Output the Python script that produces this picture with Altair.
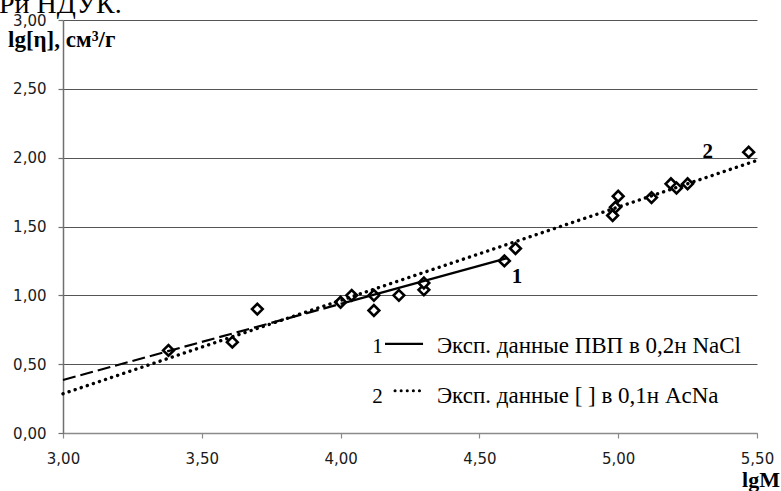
import altair as alt
import pandas as pd

# ---- data ----
lgM = [3.38, 3.61, 3.70, 4.00, 4.04, 4.12, 4.12, 4.21, 4.30, 4.30,
       4.59, 4.63, 4.98, 4.99, 5.00, 5.12, 5.19, 5.21, 5.25, 5.47]
lg_eta = [0.60, 0.66, 0.90, 0.95, 1.00, 1.00, 0.89, 1.00, 1.04, 1.09,
          1.25, 1.34, 1.58, 1.64, 1.72, 1.71, 1.81, 1.78, 1.81, 2.04]

# trend line 1 (dashed extension + solid part)
line1_dash_x = [3.00, 4.00]
line1_dash_y = [0.385, 0.938]
line1_solid_x = [4.00, 4.60]
line1_solid_y = [0.938, 1.27]
# trend line 2 (dotted)
line2_x = [3.00, 5.50]
line2_y = [0.285, 1.98]

x_ticks = [3.0, 3.5, 4.0, 4.5, 5.0, 5.5]
y_ticks = [0.0, 0.5, 1.0, 1.5, 2.0, 2.5, 3.0]

series_labels = ["1", "2"]
series_label_x = [4.635, 5.323]
series_label_y = [1.09, 2.00]

legend_nums = ["1", "2"]
legend_texts = ["Эксп. данные ПВП в 0,2н NaCl", "Эксп. данные [   ] в 0,1н AcNa"]
legend_num_x = [4.133, 4.133]
legend_text_x = [4.347, 4.347]
legend_text_y = [0.582, 0.219]
legend_line1_x = [4.160, 4.297]
legend_line1_y = [0.647]
legend_line2_x = [4.196, 4.293]
legend_line2_y = [0.306]

y_title = ["lg[η], см³/г"]
x_title = ["lgM"]
top_text = ["Ри НДУК."]

SERIF = "Liberation Serif"
SANS = "DejaVu Sans"

xs = alt.Scale(domain=[3, 5.5], nice=False, zero=False)
ys = alt.Scale(domain=[0, 3], nice=False, zero=False)
lab = "replace(format(datum.value, '.2f'), '.', ',')"

xaxis = alt.Axis(values=x_ticks, labelExpr=lab, grid=False, domainColor="#8a8a8a",
                 domainWidth=1.5, tickColor="#8a8a8a", tickSize=5, tickWidth=1.2,
                 labelFont=SANS, labelFontSize=15, labelColor="#1a1a1a",
                 labelPadding=13, title="", labelFlush=False, labelOverlap=False)
yaxis = alt.Axis(values=y_ticks, labelExpr=lab, grid=True, gridColor="#555555",
                 gridWidth=1, domainColor="#707070", domainWidth=1.5,
                 tickColor="#707070", tickSize=5, tickWidth=1.2,
                 labelFont=SANS, labelFontSize=15, labelColor="#1a1a1a",
                 labelPadding=12, title="", labelFlush=False, labelOverlap=False)

pts = pd.DataFrame({"x": lgM, "y": lg_eta})
points = alt.Chart(pts).mark_point(
    shape="diamond", size=115, filled=True, fill="white", stroke="black",
    strokeWidth=2.6, opacity=1
).encode(x=alt.X("x:Q", scale=xs, axis=xaxis), y=alt.Y("y:Q", scale=ys, axis=yaxis))

l1d = alt.Chart(pd.DataFrame({"x": line1_dash_x, "y": line1_dash_y})).mark_line(
    color="black", strokeWidth=2.2, strokeDash=[13, 5]
).encode(x=alt.X("x:Q", scale=xs), y=alt.Y("y:Q", scale=ys))
l1s = alt.Chart(pd.DataFrame({"x": line1_solid_x, "y": line1_solid_y})).mark_line(
    color="black", strokeWidth=2.2
).encode(x=alt.X("x:Q", scale=xs), y=alt.Y("y:Q", scale=ys))
l2 = alt.Chart(pd.DataFrame({"x": line2_x, "y": line2_y})).mark_line(
    color="black", strokeWidth=3.4, strokeDash=[0.1, 6.3], strokeCap="round"
).encode(x=alt.X("x:Q", scale=xs), y=alt.Y("y:Q", scale=ys))

slabels = alt.Chart(pd.DataFrame({"x": series_label_x, "y": series_label_y, "t": series_labels})).mark_text(
    font=SERIF, fontWeight="bold", fontSize=21, color="black", align="center", baseline="alphabetic"
).encode(x=alt.X("x:Q", scale=xs), y=alt.Y("y:Q", scale=ys), text="t:N")

leg_nums = alt.Chart(pd.DataFrame({"x": legend_num_x, "y": legend_text_y, "t": legend_nums})).mark_text(
    font=SERIF, fontSize=21, color="black", align="center", baseline="alphabetic"
).encode(x=alt.X("x:Q", scale=xs), y=alt.Y("y:Q", scale=ys), text="t:N")
leg_txt = alt.Chart(pd.DataFrame({"x": legend_text_x, "y": legend_text_y, "t": legend_texts})).mark_text(
    font=SERIF, fontSize=23, color="black", align="left", baseline="alphabetic"
).encode(x=alt.X("x:Q", scale=xs), y=alt.Y("y:Q", scale=ys), text="t:N")
leg_l1 = alt.Chart(pd.DataFrame({"x": [legend_line1_x[0]], "x2": [legend_line1_x[1]], "y": legend_line1_y})).mark_rule(
    color="black", strokeWidth=2.2
).encode(x=alt.X("x:Q", scale=xs), x2="x2:Q", y=alt.Y("y:Q", scale=ys))
leg_l2 = alt.Chart(pd.DataFrame({"x": [legend_line2_x[0]], "x2": [legend_line2_x[1]], "y": legend_line2_y})).mark_rule(
    color="black", strokeWidth=3, strokeDash=[0.1, 6], strokeCap="round"
).encode(x=alt.X("x:Q", scale=xs), x2="x2:Q", y=alt.Y("y:Q", scale=ys))

ytitle = alt.Chart(pd.DataFrame({"t": y_title})).mark_text(
    font=SERIF, fontWeight="bold", fontSize=23, color="black", align="left", baseline="alphabetic"
).encode(x=alt.value(-55), y=alt.value(27), text="t:N")
xtitle = alt.Chart(pd.DataFrame({"t": x_title})).mark_text(
    font=SERIF, fontWeight="bold", fontSize=22, color="black", align="right", baseline="alphabetic"
).encode(x=alt.value(717), y=alt.value(467), text="t:N")
toptxt = alt.Chart(pd.DataFrame({"t": top_text})).mark_text(
    font=SERIF, fontSize=28, color="black", align="left", baseline="alphabetic"
).encode(x=alt.value(-64), y=alt.value(-7), text="t:N")

chart = alt.layer(
    points, l1d, l1s, l2, slabels, leg_nums, leg_txt, leg_l1, leg_l2, ytitle, xtitle, toptxt
).properties(
    width=694, height=413,
    autosize=alt.AutoSizeParams(type="none"),
    padding={"left": 63, "top": 20, "right": 24, "bottom": 58},
    background="white"
).configure_view(strokeWidth=0)

chart.save("out.html", embed_options={"renderer": "svg", "actions": False})
